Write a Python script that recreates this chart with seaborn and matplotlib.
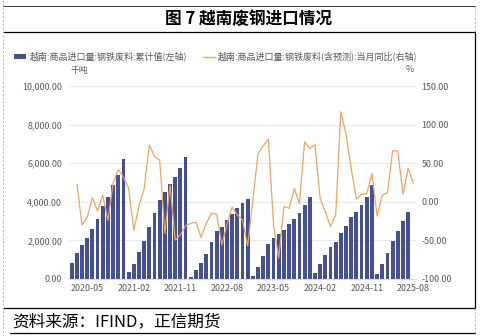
import matplotlib
matplotlib.use("Agg")
import matplotlib.pyplot as plt
import seaborn as sns
from matplotlib.lines import Line2D
from matplotlib.patches import Patch
from matplotlib.ticker import FuncFormatter

# Monthly axis categories, 2020-02 .. 2025-08
months = [f"{y}-{m:02d}" for y in range(2020, 2026) for m in range(1, 13)]
months = months[months.index("2020-02"):months.index("2025-08") + 1]
tick_labels = ["2020-05", "2021-02", "2021-11", "2022-08",
               "2023-05", "2024-02", "2024-11", "2025-08"]

# Vietnam steel scrap imports, year-to-date cumulative (thousand tonnes), 2020-02 .. 2025-07
cum_2020 = [845, 1347, 1762, 2124, 2573, 3092, 3782, 4249, 4853, 5406, 6235]
cum_2021 = [363, 760, 1399, 1986, 2712, 3402, 4093, 4490, 4905, 5285, 5734, 6305]
cum_2022 = [120, 466, 845, 1320, 1934, 2487, 2712, 3050, 3360, 3690, 3920, 4128]
cum_2023 = [172, 638, 1209, 1813, 2107, 2314, 2521, 2832, 3126, 3437, 3834, 4266]
cum_2024 = [328, 794, 1244, 1658, 1934, 2401, 2763, 3195, 3489, 3834, 4266, 4860]
cum_2025 = [259, 777, 1330, 1986, 2487, 2990, 3489]
cumulative = cum_2020 + cum_2021 + cum_2022 + cum_2023 + cum_2024 + cum_2025
bar_months = months[:len(cumulative)]

# Monthly year-on-year change (%, incl. forecast), 2020-03 .. 2025-08
yoy = [23, -30, -20, 5, -12, 9, -24, 24, 42, 32, 17.5,
       -37, -5, 17, 73.6, 58.5, 54, -41, 22, -49.5, -43, -31, -28,
       -26.5, -46, -28, -15, -16, -56, -29, -7, -17, -23.5, -57, 2,
       62.5, 72.5, 81, -30, -73, -6, -8.5, 17.5, -2.5, 78, 69, 74,
       4.5, -13, -32, -17, 116.7, 87.5, 43, 3.5, 9.7, 10.5, 36.5, -18.4, 8.8,
       11.5, 66, 66, 10, 43.4, 24]
line_months = months[1:1 + len(yoy)]

bar_label = "越南:商品进口量:钢铁废料:累计值(左轴)"
line_label = "越南:商品进口量:钢铁废料(含预测):当月同比(右轴)"

BAR_C = "#454F94"
LINE_C = "#EDA661"
TXT_C = "#595959"

sns.set_theme(style="white")
plt.rcParams["font.family"] = ["Noto Sans CJK SC", "DejaVu Sans"]

W, H = 483, 336
fig = plt.figure(figsize=(W / 100, H / 100), dpi=100)


def fx(x):
    return x / W


def fy(y):
    return 1 - y / H


ax = fig.add_axes([fx(69.1), fy(279), fx(415.9) - fx(69.1), fy(86) - fy(279)])

sns.barplot(x=bar_months, y=cumulative, order=months, color=BAR_C,
            saturation=1, width=0.74, linewidth=0, edgecolor="none", ax=ax)

ax2 = ax.twinx()
line_pos = [months.index(m) for m in line_months]
sns.lineplot(x=line_pos, y=yoy, color=LINE_C, linewidth=0.9, ax=ax2)

ax.set_xlim(-0.5, len(months) - 0.5)
ax.set_ylim(0, 10000)
ax2.set_ylim(-100, 150)

ax.set_xticks([months.index(t) for t in tick_labels])
ax.set_xticklabels(tick_labels)
ax.set_yticks(range(0, 10001, 2000))
ax.yaxis.set_major_formatter(FuncFormatter(lambda v, p: f"{v:,.2f}"))
ax2.set_yticks(range(-100, 151, 50))
ax2.yaxis.set_major_formatter(FuncFormatter(lambda v, p: f"{v:.2f}"))

ax.set_xlabel("")
ax.set_ylabel("")
ax2.set_xlabel("")
ax2.set_ylabel("")

ax.tick_params(axis="x", length=0, pad=3.5, labelsize=6.4, labelcolor=TXT_C)
ax.tick_params(axis="y", length=0, pad=5, labelsize=6.4, labelcolor=TXT_C)
ax2.tick_params(axis="y", length=0, pad=4, labelsize=6.4, labelcolor=TXT_C)

ax.yaxis.grid(True, color="#EBEBEB", linewidth=0.8)
ax.set_axisbelow(True)
for a in (ax, ax2):
    for s in ("top", "left", "right", "bottom"):
        a.spines[s].set_visible(False)
ax.spines["bottom"].set_visible(True)
ax.spines["bottom"].set_color("#D9D9D9")
ax.spines["bottom"].set_linewidth(0.8)

# Axis unit captions
fig.text(fx(79), fy(70), "千吨", ha="center", va="center", fontsize=6.4, color=TXT_C)
fig.text(fx(410), fy(69.5), "%", ha="center", va="center", fontsize=6.4, color=TXT_C)

# Legend
handles = [Patch(facecolor=BAR_C, edgecolor="none"),
           Line2D([], [], color=LINE_C, linewidth=1.0)]
leg = fig.legend(handles, [bar_label, line_label], loc="center",
                 bbox_to_anchor=(fx(216), fy(56.7)), ncol=2, frameon=False,
                 fontsize=6.5, handlelength=1.3, handleheight=0.5,
                 handletextpad=0.35, columnspacing=1.8, borderpad=0)
for t in leg.get_texts():
    t.set_color(TXT_C)

# Title and source
fig.text(fx(248.5), fy(19), "图 7 越南废钢进口情况", ha="center", va="center",
         fontsize=12, fontweight="bold", color="black")
fig.text(fx(12.5), fy(321.5), "资料来源：IFIND，正信期货", ha="left", va="center",
         fontsize=12, fontweight="light", color="black")

# Report frame
def hline(y, x0, x1, color="black", lw=0.9, ls="-"):
    fig.add_artist(Line2D([fx(x0), fx(x1)], [fy(y), fy(y)], color=color,
                          linewidth=lw, linestyle=ls))


def vline(x, y0, y1, color="black", lw=0.9, ls="-"):
    fig.add_artist(Line2D([fx(x), fx(x)], [fy(y0), fy(y1)], color=color,
                          linewidth=lw, linestyle=ls))


hline(6, 3, 475, color="#404040", lw=0.7)
hline(32, 4, 475)
hline(308, 3, 475)
hline(332.5, 10, 475)
vline(475, 32, 308)
vline(3, 0, 336, color="#B0B0B0", lw=0.7, ls=(0, (2, 2)))
vline(475, 6, 32, color="#B0B0B0", lw=0.7, ls=(0, (2, 2)))
vline(475, 308, 333, color="#B0B0B0", lw=0.7, ls=(0, (2, 2)))

fig.savefig("out.png", dpi=100)
